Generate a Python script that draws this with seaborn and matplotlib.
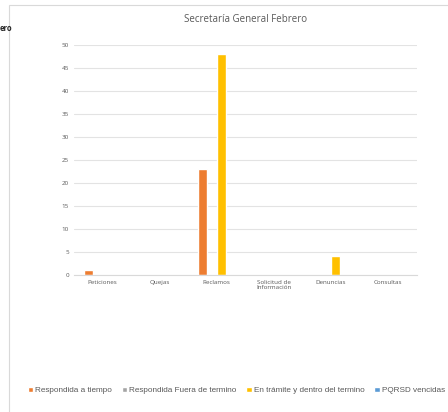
import pandas as pd
import matplotlib.pyplot as plt
import seaborn as sns
from matplotlib.patches import Rectangle

categories = ['Peticiones', 'Quejas', 'Reclamos', 'Solicitud de\nInformación', 'Denuncias', 'Consultas']
series = ['Respondida a tiempo', 'Respondida Fuera de termino',
          'En trámite y dentro del termino', 'PQRSD vencidas']
respondida_tiempo = [1, 0, 23, 0, 0, 0]
respondida_fuera = [0, 0, 0, 0, 0, 0]
en_tramite = [0, 0, 48, 0, 4, 0]
vencidas = [0, 0, 0, 0, 0, 0]
colors = ['#ED7D31', '#A5A5A5', '#FFC000', '#5B9BD5']
yticks = list(range(0, 55, 5))

rows = []
for s, vals in zip(series, [respondida_tiempo, respondida_fuera, en_tramite, vencidas]):
    for c, v in zip(categories, vals):
        rows.append({'Categoria': c, 'Serie': s, 'Valor': v})
df = pd.DataFrame(rows)

sns.set_style('white')
plt.rcParams['font.family'] = ['Open Sans', 'DejaVu Sans']

fig = plt.figure(figsize=(4.48, 4.12), dpi=100)
ax = fig.add_axes([0.165, 0.333, 0.765, 0.557])

sns.barplot(data=df, x='Categoria', y='Valor', hue='Serie', palette=colors,
            width=0.65, saturation=1, errorbar=None, ax=ax, legend=True)

ax.set_ylim(0, 50)
ax.set_yticks(yticks)
ax.yaxis.grid(True, color='#E3E3E3', linewidth=0.8)
ax.set_axisbelow(True)
sns.despine(ax=ax, left=True, bottom=False)
ax.spines['bottom'].set_color('#D9D9D9')
ax.tick_params(axis='both', labelsize=4.5, labelcolor='#595959', length=0)
ax.set_xlabel('')
ax.set_ylabel('')
ax.set_title('Secretaría General Febrero', fontsize=7, color='#595959', pad=17)

handles, labels = ax.get_legend_handles_labels()
ax.get_legend().remove()
fig.legend(handles, labels, loc='lower left', bbox_to_anchor=(0.045, 0.025), ncol=4,
           prop={'family': 'Liberation Sans', 'size': 5.9}, frameon=False,
           handlelength=0.7, handleheight=0.7, handletextpad=0.2,
           columnspacing=1.2, labelcolor='#595959')

fig.patches.append(Rectangle((0.02, -0.01), 1.0, 0.998, transform=fig.transFigure,
                             fill=False, edgecolor='#D9D9D9', linewidth=0.8))
fig.text(0.0, 0.932, 'ero', ha='left', va='center', fontsize=5.5, fontweight='bold')

fig.savefig('out.png', dpi=100)
